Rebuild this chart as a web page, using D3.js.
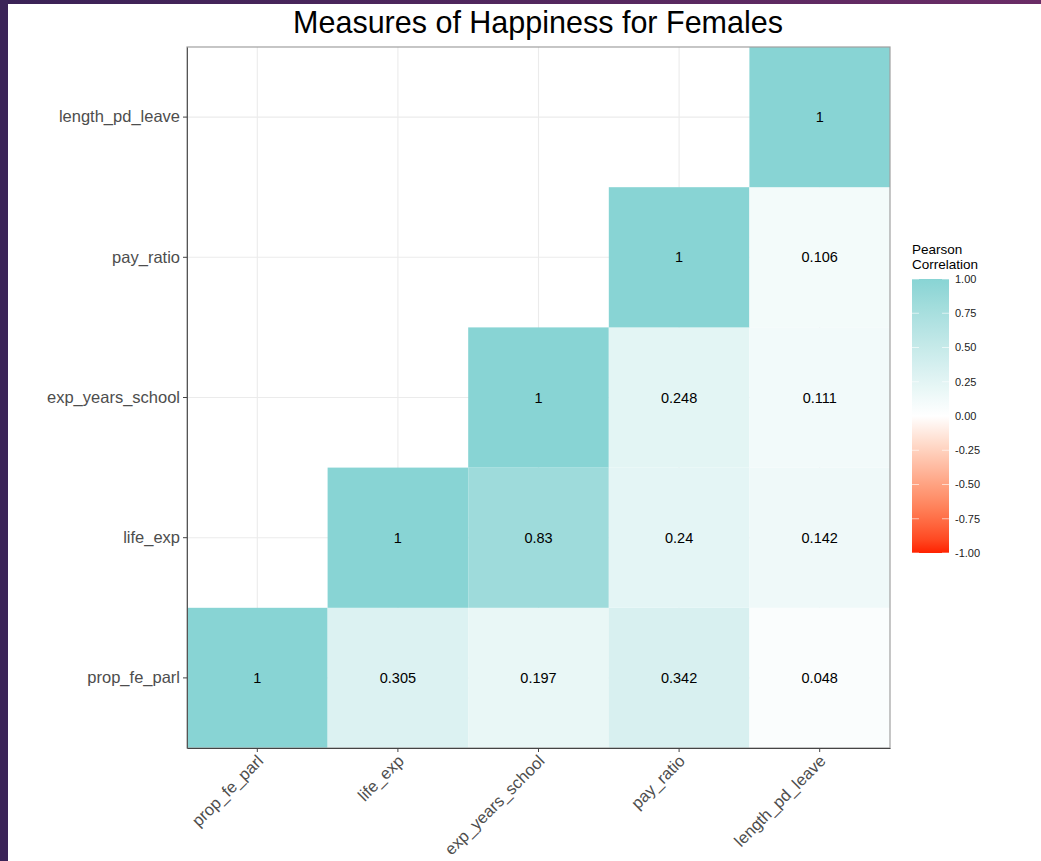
<!DOCTYPE html>
<html lang="en">
<head>
<meta charset="UTF-8">
<title>Measures of Happiness for Females</title>
<script src="https://cdnjs.cloudflare.com/ajax/libs/d3/7.8.5/d3.min.js"></script>
<style>
  html, body { margin: 0; padding: 0; background: #fff; }
  svg { display: block; font-family: "Liberation Sans", Arial, sans-serif; }
</style>
</head>
<body>
<svg id="chart" width="1041" height="861"></svg>
<script>
// variables in plot order (x left->right, y bottom->top)
const vars = ["prop_fe_parl", "life_exp", "exp_years_school", "pay_ratio", "length_pd_leave"]

// lower triangle of the correlation matrix: [row var, col var, r]
const cellRow = ["prop_fe_parl", "prop_fe_parl", "prop_fe_parl", "prop_fe_parl", "prop_fe_parl",
  "life_exp", "life_exp", "life_exp", "life_exp",
  "exp_years_school", "exp_years_school", "exp_years_school",
  "pay_ratio", "pay_ratio",
  "length_pd_leave"]
const cellCol = ["prop_fe_parl", "life_exp", "exp_years_school", "pay_ratio", "length_pd_leave",
  "life_exp", "exp_years_school", "pay_ratio", "length_pd_leave",
  "exp_years_school", "pay_ratio", "length_pd_leave",
  "pay_ratio", "length_pd_leave",
  "length_pd_leave"]
const cellR = [1, 0.305, 0.197, 0.342, 0.048,
  1, 0.83, 0.24, 0.142,
  1, 0.248, 0.111,
  1, 0.106,
  1]

const legendTicks = [1, 0.75, 0.5, 0.25, 0, -0.25, -0.5, -0.75, -1]

const svg = d3.select("#chart")

// dark frame of the screenshot
const grad = svg.append("defs").append("linearGradient").attr("id", "frame")
  .attr("x1", 0).attr("y1", 0).attr("x2", 1).attr("y2", 0)
grad.append("stop").attr("offset", "0%").attr("stop-color", "#3a2256")
grad.append("stop").attr("offset", "100%").attr("stop-color", "#6a2c66")
svg.append("rect").attr("x", 0).attr("y", 0).attr("width", 1041).attr("height", 4).attr("fill", "url(#frame)")
svg.append("rect").attr("x", 0).attr("y", 0).attr("width", 8).attr("height", 861).attr("fill", "#3b2458")

const panel = { left: 187, top: 47, right: 890, bottom: 748 }

const x = d3.scaleBand().domain(vars).range([panel.left, panel.right])
const y = d3.scaleBand().domain(vars).range([panel.bottom, panel.top])

const colour = d3.scaleLinear()
  .domain([-1, 0, 1])
  .range(["#ff2200", "#ffffff", "#88d4d4"])
  .interpolate(d3.interpolateLab)

// grid
const g = svg.append("g")
g.selectAll(".gx").data(vars).enter().append("line")
  .attr("x1", d => x(d) + x.bandwidth() / 2).attr("x2", d => x(d) + x.bandwidth() / 2)
  .attr("y1", panel.top).attr("y2", panel.bottom)
  .attr("stroke", "#ebebeb").attr("stroke-width", 1.1)
g.selectAll(".gy").data(vars).enter().append("line")
  .attr("y1", d => y(d) + y.bandwidth() / 2).attr("y2", d => y(d) + y.bandwidth() / 2)
  .attr("x1", panel.left).attr("x2", panel.right)
  .attr("stroke", "#ebebeb").attr("stroke-width", 1.1)

const cells = cellR.map((r, i) => ({ row: cellRow[i], col: cellCol[i], r }))

g.selectAll(".cell").data(cells).enter().append("rect")
  .attr("x", d => x(d.col))
  .attr("y", d => y(d.row))
  .attr("width", x.bandwidth())
  .attr("height", y.bandwidth())
  .attr("fill", d => colour(d.r))

g.selectAll(".lab").data(cells).enter().append("text")
  .attr("x", d => x(d.col) + x.bandwidth() / 2)
  .attr("y", d => y(d.row) + y.bandwidth() / 2)
  .attr("dy", "0.35em")
  .attr("text-anchor", "middle")
  .attr("font-size", 14.5)
  .attr("fill", "#000")
  .text(d => d.r)

// panel border
svg.append("rect")
  .attr("x", panel.left).attr("y", panel.top)
  .attr("width", panel.right - panel.left).attr("height", panel.bottom - panel.top)
  .attr("fill", "none").attr("stroke", "#a0a0a0").attr("stroke-width", 1.2)

// axes
const yAxis = svg.append("g").attr("transform", `translate(${panel.left},0)`)
  .call(d3.axisLeft(y).tickSizeInner(4).tickSizeOuter(0).tickPadding(3))
yAxis.select(".domain").attr("stroke", "#555")
yAxis.selectAll(".tick line").attr("stroke", "#444")
yAxis.selectAll("text").attr("font-size", 16.5).attr("fill", "#4d4d4d")
  .attr("font-family", "Liberation Sans, Arial, sans-serif")

const xAxis = svg.append("g").attr("transform", `translate(0,${panel.bottom})`)
  .call(d3.axisBottom(x).tickSizeInner(4).tickSizeOuter(0).tickPadding(3))
xAxis.select(".domain").attr("stroke", "#444")
xAxis.selectAll(".tick line").attr("stroke", "#444")
xAxis.selectAll("text")
  .attr("font-size", 16.5).attr("fill", "#4d4d4d")
  .attr("font-family", "Liberation Sans, Arial, sans-serif")
  .attr("text-anchor", "end")
  .attr("dy", null)
  .attr("y", 0)
  .attr("transform", "translate(7,14) rotate(-45)")

// title
svg.append("text")
  .attr("x", 538).attr("y", 33)
  .attr("text-anchor", "middle")
  .attr("font-size", 30.5).attr("fill", "#000")
  .text("Measures of Happiness for Females")

// legend
const leg = { x: 912, top: 279, bottom: 553, w: 37 }
const ly = d3.scaleLinear().domain([1, -1]).range([leg.top, leg.bottom])
const lgrad = svg.select("defs").append("linearGradient").attr("id", "lg")
  .attr("x1", 0).attr("y1", 0).attr("x2", 0).attr("y2", 1)
d3.range(0, 1.0001, 0.05).forEach(t => {
  lgrad.append("stop").attr("offset", (t * 100) + "%").attr("stop-color", colour(1 - 2 * t))
})
svg.append("text").attr("x", leg.x).attr("y", 254).attr("font-size", 13.5).attr("fill", "#000").text("Pearson")
svg.append("text").attr("x", leg.x).attr("y", 268.5).attr("font-size", 13.5).attr("fill", "#000").text("Correlation")
svg.append("rect").attr("x", leg.x).attr("y", leg.top).attr("width", leg.w).attr("height", leg.bottom - leg.top)
  .attr("fill", "url(#lg)")
const lt = svg.append("g")
lt.selectAll(".tl").data(legendTicks).enter().append("line")
  .attr("x1", leg.x).attr("x2", leg.x + 7)
  .attr("y1", d => ly(d)).attr("y2", d => ly(d))
  .attr("stroke", "#fff").attr("stroke-opacity", 0.6)
lt.selectAll(".tr").data(legendTicks).enter().append("line")
  .attr("x1", leg.x + leg.w - 7).attr("x2", leg.x + leg.w)
  .attr("y1", d => ly(d)).attr("y2", d => ly(d))
  .attr("stroke", "#fff").attr("stroke-opacity", 0.6)
lt.selectAll(".tt").data(legendTicks).enter().append("text")
  .attr("x", leg.x + leg.w + 6)
  .attr("y", d => ly(d)).attr("dy", "0.35em")
  .attr("font-size", 11).attr("fill", "#222")
  .text(d => d3.format(".2f")(d).replace("−", "-"))
</script>
</body>
</html>
